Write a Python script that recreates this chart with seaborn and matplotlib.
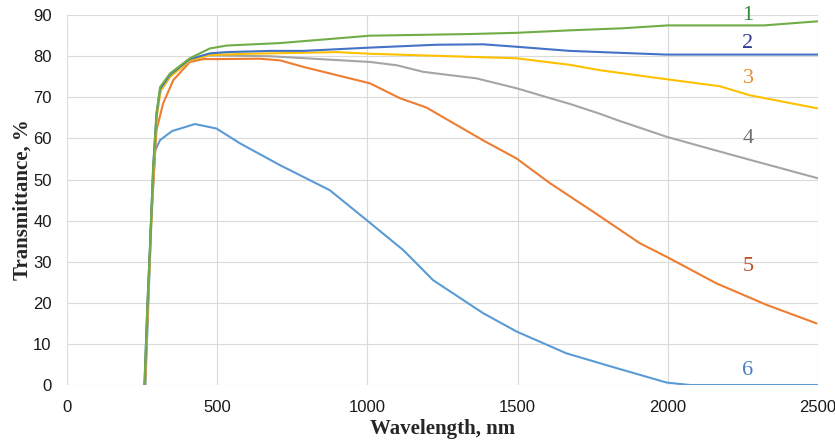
import numpy as np
import pandas as pd
import matplotlib
matplotlib.use("Agg")
import matplotlib.pyplot as plt
import seaborn as sns

# curve data (wavelength nm, transmittance %)
wl1 = [258, 268, 276, 287, 298, 310, 343, 409, 476, 532, 709, 1009, 1342, 1497, 1674, 1850, 2000, 2250, 2320, 2500]
t1 = [0, 20, 33, 53, 66, 72.5, 75.8, 79.5, 81.9, 82.6, 83.2, 85, 85.4, 85.7, 86.3, 86.8, 87.5, 87.5, 87.5, 88.5]

wl2 = [258, 268, 276, 287, 298, 310, 343, 409, 476, 532, 676, 787, 1009, 1231, 1386, 1497, 1674, 1850, 1996, 2500]
t2 = [0, 20, 33, 53, 66, 72, 75.5, 79.3, 80.7, 81, 81.3, 81.3, 82.1, 82.8, 82.9, 82.3, 81.3, 80.8, 80.4, 80.4]

wl3 = [259, 269, 277, 288, 299, 311, 343, 409, 476, 600, 898, 1009, 1231, 1497, 1674, 1774, 1996, 2173, 2273, 2400, 2500]
t3 = [0, 20, 33, 53, 65.5, 71.5, 75, 79, 80.3, 80.6, 81, 80.6, 80.1, 79.5, 77.9, 76.6, 74.4, 72.7, 70.5, 68.7, 67.3]

wl4 = [259, 269, 277, 288, 299, 311, 343, 409, 476, 676, 1009, 1098, 1186, 1364, 1497, 1608, 1674, 1774, 1830, 1996, 2218, 2500]
t4 = [0, 20, 33, 53, 65.5, 71.5, 75, 79, 80.2, 80, 78.6, 77.8, 76.2, 74.6, 72.2, 69.8, 68.4, 66, 64.5, 60.4, 55.9, 50.3]

wl5 = [260, 270, 280, 298, 320, 354, 409, 454, 500, 640, 709, 787, 1009, 1108, 1197, 1386, 1497, 1608, 1751, 1907, 1996, 2163, 2329, 2495]
t5 = [0, 20, 40, 62, 68.5, 74.2, 78.6, 79.3, 79.3, 79.4, 79, 77.4, 73.4, 69.8, 67.5, 59.5, 55.1, 49.1, 42.2, 34.5, 31.2, 24.7, 19.5, 15]

wl6 = [261, 271, 281, 293, 310, 350, 426, 498, 576, 709, 875, 998, 1120, 1219, 1385, 1497, 1663, 1830, 1996, 2074, 2500]
t6 = [0, 20, 40, 57, 59.6, 61.8, 63.5, 62.4, 58.8, 53.5, 47.4, 40.1, 32.8, 25.5, 17.5, 13, 7.7, 4.1, 0.6, 0, 0]

line_colors = ["#70AD47", "#4472C4", "#FFC000", "#A5A5A5", "#ED7D31", "#5B9BD5"]
label_colors = ["#2E8B3A", "#2F3A8F", "#E8902E", "#707070", "#C0522A", "#4A7EBB"]
label_y = [90, 83.1, 74.6, 60, 28.8, 3.6]
label_text = ["1", "2", "3", "4", "5", "6"]

sns.set_style("whitegrid")
plt.rcParams['font.family'] = ['Liberation Sans Narrow', 'Liberation Sans', 'DejaVu Sans']

fig = plt.figure(figsize=(8.35, 4.45), dpi=100)
ax = fig.add_axes([0.0802, 0.1348, 0.8994, 0.8312])

curves = [(wl1, t1), (wl2, t2), (wl3, t3), (wl4, t4), (wl5, t5), (wl6, t6)]
# draw back-to-front so green sits on top like the original
for i in [5, 4, 3, 2, 1, 0]:
    x, y = curves[i]
    df = pd.DataFrame({"wl": x, "T": y})
    sns.lineplot(data=df, x="wl", y="T", color=line_colors[i], linewidth=1.5, ax=ax,
                 solid_joinstyle='round')

for i in range(6):
    ax.text(2267, label_y[i], label_text[i], color=label_colors[i], fontsize=16,
            family='Liberation Serif', ha='center', va='center')

ax.set_xlim(0, 2500)
ax.set_ylim(0, 90)
ax.set_xticks([0, 500, 1000, 1500, 2000, 2500])
ax.set_yticks(range(0, 91, 10))
ax.grid(True, color="#DADADA", linewidth=0.8)
for s in ax.spines.values():
    s.set_visible(False)
ax.tick_params(axis='both', labelsize=12, length=0, colors="#1a1a1a")
ax.tick_params(axis='x', pad=11)
ax.tick_params(axis='y', pad=11)
ax.set_xlabel("Wavelength, nm", family='Liberation Serif', fontweight='bold', fontsize=15, labelpad=3)
ax.set_ylabel("Transmittance, %", family='Liberation Serif', fontweight='bold', fontsize=15, labelpad=0)

fig.savefig("out.png", dpi=100)
